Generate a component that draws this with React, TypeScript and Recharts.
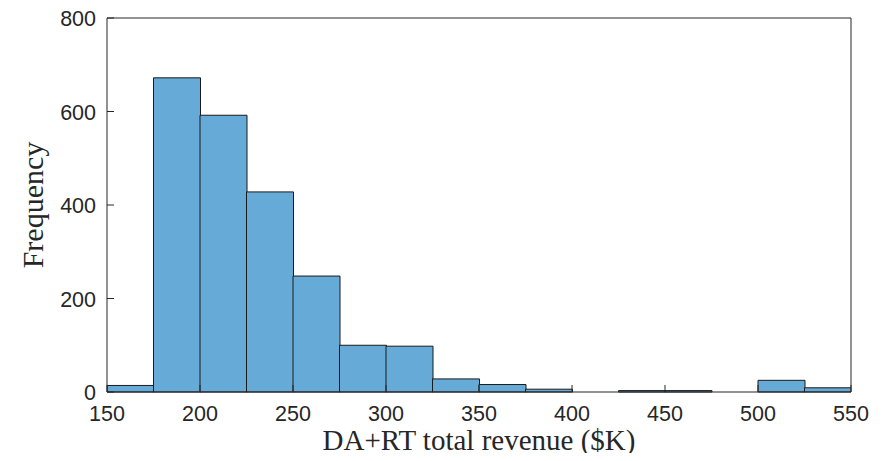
import { BarChart, Bar, XAxis, YAxis, Label, ReferenceLine } from 'recharts';

// histogram bins ($K), width 25
const binStarts = [150, 175, 200, 225, 250, 275, 300, 325, 350, 375, 400, 425, 450, 475, 500, 525];
const counts = [14, 672, 592, 428, 248, 100, 98, 28, 16, 6, 0, 3, 3, 0, 25, 9];
const xTicks = [150, 200, 250, 300, 350, 400, 450, 500, 550];
const yTicks = [0, 200, 400, 600, 800];

const BIN = 25;
const data = binStarts.map((s, i) => ({ mid: s + BIN / 2, count: counts[i] }));

const AXIS = '#262626';
const TICK_FONT = '"Liberation Sans", Arial, sans-serif';
const LABEL_FONT = '"Liberation Serif", "DejaVu Serif", serif';
const TICK_LEN = 7;
const X_MARGIN = 8;
const Y_MARGIN = 11;

function XTick(props: any) {
  const { x, y, payload } = props;
  const axisY = y - X_MARGIN;
  return (
    <g>
      <line x1={x} x2={x} y1={axisY} y2={axisY - TICK_LEN} stroke={AXIS} />
      <text x={x} y={y + 21} textAnchor="middle" fontSize={21.5} fill={AXIS} fontFamily={TICK_FONT}>
        {payload.value}
      </text>
    </g>
  );
}

function YTick(props: any) {
  const { x, y, payload } = props;
  const axisX = x + Y_MARGIN;
  return (
    <g>
      <line x1={axisX} x2={axisX + TICK_LEN} y1={y} y2={y} stroke={AXIS} />
      <text x={x} y={y + 8} textAnchor="end" fontSize={21.5} fill={AXIS} fontFamily={TICK_FONT}>
        {payload.value}
      </text>
    </g>
  );
}

export default function App() {
  return (
    <div style={{ margin: -8, background: '#fff', width: 885, height: 461 }}>
      <BarChart
        width={885}
        height={461}
        data={data}
        margin={{ top: 18, right: 34, bottom: 0, left: 0 }}
        barCategoryGap={0}
        barGap={0}
      >
        <XAxis
          xAxisId="b"
          dataKey="mid"
          type="number"
          domain={[150, 550]}
          ticks={xTicks}
          height={69}
          tickSize={0}
          tickMargin={X_MARGIN}
          tickLine={false}
          axisLine={{ stroke: AXIS }}
          tick={<XTick />}
          allowDataOverflow
        >
          <Label
            value="DA+RT total revenue ($K)"
            position="insideBottom"
            offset={11}
            style={{ fontFamily: LABEL_FONT, fontSize: 29, fill: AXIS }}
          />
        </XAxis>
        <YAxis
          yAxisId="l"
          domain={[0, 800]}
          ticks={yTicks}
          width={107}
          tickSize={0}
          tickMargin={Y_MARGIN}
          tickLine={false}
          axisLine={{ stroke: AXIS }}
          tick={<YTick />}
        >
          <Label
            value="Frequency"
            angle={-90}
            position="insideLeft"
            offset={32}
            style={{ fontFamily: LABEL_FONT, fontSize: 30, fill: AXIS, textAnchor: 'middle' }}
          />
        </YAxis>
        <ReferenceLine xAxisId="b" yAxisId="l" y={800} stroke={AXIS} />
        <ReferenceLine xAxisId="b" yAxisId="l" x={550} stroke={AXIS} />
        <Bar
          xAxisId="b"
          yAxisId="l"
          dataKey="count"
          fill="#66aad7"
          stroke="#1a1a1a"
          strokeWidth={1}
          isAnimationActive={false}
        />
      </BarChart>
    </div>
  );
}
